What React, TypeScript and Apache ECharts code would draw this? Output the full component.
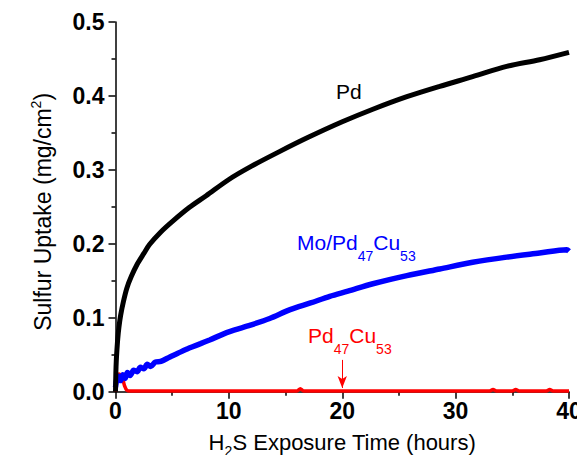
import React, { useEffect, useRef } from "react";
import * as echarts from "echarts";

const FONT = "Liberation Sans, Arial, sans-serif";

// Pd
const pdTime = [0, 0.03, 0.07, 0.12, 0.2, 0.3, 0.45, 0.7, 1.0, 1.4, 1.9, 2.5, 3.0, 4.0, 5.0, 6.5, 8.0, 10, 12, 14.5, 17, 20, 22.7, 25.7, 28.6, 31.5, 34.5, 37.4, 40];
const pdVal = [0, 0.025, 0.042, 0.055, 0.072, 0.087, 0.103, 0.122, 0.14, 0.156, 0.172, 0.187, 0.199, 0.216, 0.23, 0.249, 0.265, 0.287, 0.305, 0.325, 0.344, 0.365, 0.382, 0.399, 0.413, 0.426, 0.44, 0.449, 0.459];

// Mo/Pd47Cu53
const moTime = [0, 0.1, 0.25, 0.45, 0.65, 0.85, 1.05, 1.3, 1.6, 1.9, 2.2, 2.5, 2.8, 3.1, 3.5, 4.0, 4.8, 5.5, 6.5, 7.5, 8.3, 10, 11.9, 13.6, 15.4, 17.2, 18.9, 20.5, 22.7, 25.7, 28.6, 31.5, 34.5, 37.4, 39.8, 40];
const moVal = [0.006, 0.016, 0.021, 0.015, 0.023, 0.018, 0.026, 0.022, 0.029, 0.027, 0.033, 0.031, 0.037, 0.034, 0.04, 0.041, 0.047, 0.052, 0.059, 0.065, 0.07, 0.081, 0.09, 0.099, 0.111, 0.12, 0.129, 0.136, 0.146, 0.157, 0.166, 0.175, 0.182, 0.1875, 0.192, 0.19];

// Pd47Cu53
const pdcuTime = [0, 0.1, 0.3, 0.55, 0.8, 1.0, 1.3, 5, 10, 16.0, 16.3, 16.6, 20, 25, 30, 33.0, 33.3, 33.6, 35.0, 35.3, 35.6, 38.0, 38.3, 38.6, 40];
const pdcuVal = [0, 0.012, 0.024, 0.021, 0.008, 0.002, 0.001, 0.001, 0.001, 0.001, 0.004, 0.001, 0.001, 0.001, 0.001, 0.001, 0.003, 0.001, 0.001, 0.003, 0.001, 0.001, 0.003, 0.001, 0.001];

// arrow marking Pd47Cu53 at 20 h
const arrowTime = 20;
const arrowFrom = 0.043;
const arrowTo = 0.005;

const zip = (xs: number[], ys: number[]) => xs.map((x, i) => [x, ys[i]]);

const labelRich = (color: string) => ({
  a: { fontFamily: FONT, fontSize: 21, fill: color, lineHeight: 24, verticalAlign: "top" },
  s: { fontFamily: FONT, fontSize: 14, fill: color, lineHeight: 14, verticalAlign: "top", padding: [17, 0, 0, 0] },
});

export default function App() {
  const ref = useRef<HTMLDivElement>(null);
  useEffect(() => {
    if (!ref.current) return;
    const chart = echarts.init(ref.current, null, { renderer: "svg" });
    const axisCommon = {
      axisLine: { show: true, onZero: false, lineStyle: { color: "#000", width: 1.5 } },
      axisTick: { show: true, inside: false, length: 7, lineStyle: { color: "#000", width: 1.5 } },
      minorTick: { show: true, splitNumber: 2, length: 4, lineStyle: { color: "#000", width: 1.5 } },
      splitLine: { show: false },
      minorSplitLine: { show: false },
    };
    const lineCommon = {
      type: "line",
      showSymbol: false,
      symbol: "none",
      smooth: 0.3,
    };
    chart.setOption({
      animation: false,
      backgroundColor: "#fff",
      grid: { left: 115.5, right: 16, top: 22, bottom: 71.3, containLabel: false, outerBoundsMode: "none" },
      xAxis: {
        type: "value",
        min: 0,
        max: 40,
        interval: 10,
        ...axisCommon,
        axisLabel: { fontFamily: FONT, fontWeight: "bold", fontSize: 23, color: "#000", margin: 8 },
        name: "{a|H}{s|2}{a|S Exposure Time (hours)}",
        nameLocation: "middle",
        nameGap: 40,
        nameTextStyle: {
          rich: {
            a: { fontFamily: FONT, fontSize: 22, color: "#000", lineHeight: 22, verticalAlign: "top" },
            s: { fontFamily: FONT, fontSize: 14, color: "#000", lineHeight: 10, verticalAlign: "top", padding: [12, 0, 0, 0] },
          },
        },
      },
      yAxis: {
        type: "value",
        min: 0,
        max: 0.5,
        interval: 0.1,
        ...axisCommon,
        axisLabel: {
          fontFamily: FONT,
          fontWeight: "bold",
          fontSize: 23,
          color: "#000",
          margin: 11,
          formatter: (v: number) => v.toFixed(1),
        },
        name: "{a|Sulfur Uptake (mg/cm}{p|2}{a|)}",
        nameLocation: "middle",
        nameGap: 65,
        nameTextStyle: {
          padding: [0, 10, 0, 0],
          rich: {
            a: { fontFamily: FONT, fontSize: 23, color: "#000", lineHeight: 25, verticalAlign: "top", padding: [6, 0, 0, 0] },
            p: { fontFamily: FONT, fontSize: 14, color: "#000", lineHeight: 14, verticalAlign: "top", padding: [3, 0, 0, 0] },
          },
        },
      },
      series: [
        {
          ...lineCommon,
          name: "Pd47Cu53",
          data: zip(pdcuTime, pdcuVal),
          lineStyle: { color: "#ff0000", width: 3.5 },
          z: 3,
          markLine: {
            silent: true,
            symbol: ["none", "arrow"],
            symbolSize: [7, 12],
            label: { show: false },
            lineStyle: { color: "#ff0000", width: 1, type: "solid" },
            data: [[{ coord: [arrowTime, arrowFrom] }, { coord: [arrowTime, arrowTo] }]],
          },
        },
        {
          ...lineCommon,
          name: "Mo/Pd47Cu53",
          data: zip(moTime, moVal),
          lineStyle: { color: "#0000ff", width: 5.5 },
          z: 4,
        },
        {
          ...lineCommon,
          name: "Pd",
          data: zip(pdTime, pdVal),
          lineStyle: { color: "#000", width: 5 },
          z: 5,
        },
      ],
      graphic: [
        {
          type: "text",
          x: 336,
          y: 91,
          style: { text: "Pd", fontFamily: FONT, fontSize: 21, fill: "#000", verticalAlign: "middle" },
        },
        {
          type: "text",
          x: 297,
          y: 231.5,
          style: { text: "{a|Mo/Pd}{s|47}{a|Cu}{s|53}", rich: labelRich("#0000ff"), verticalAlign: "top" },
        },
        {
          type: "text",
          x: 308,
          y: 324.5,
          style: { text: "{a|Pd}{s|47}{a|Cu}{s|53}", rich: labelRich("#ff0000"), verticalAlign: "top" },
        },
      ],
    });
    return () => chart.dispose();
  }, []);
  return <div ref={ref} style={{ width: 585, height: 463, margin: -8 }} />;
}
